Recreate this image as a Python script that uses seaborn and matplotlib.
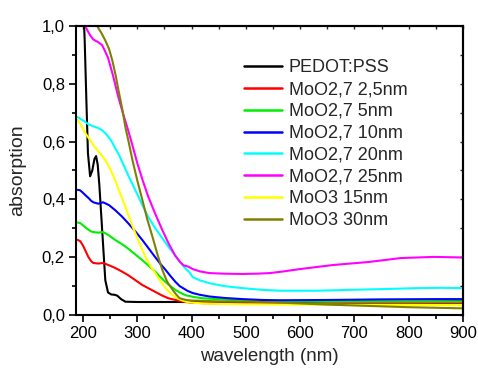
import matplotlib
matplotlib.use("Agg")
import matplotlib.pyplot as plt
import matplotlib.ticker as mticker
import numpy as np
import pandas as pd
import seaborn as sns

# Absorption spectra (wavelength in nm, absorption)
pedot_wl = [190, 200, 203, 206, 209, 213, 217, 221, 224, 227, 230, 233, 237, 241, 246, 252, 258, 263, 270, 278, 300, 400, 500, 600, 700, 800, 900]
pedot_ab = [1.25, 1.10, 0.95, 0.75, 0.56, 0.48, 0.50, 0.54, 0.55, 0.52, 0.45, 0.36, 0.24, 0.12, 0.078, 0.071, 0.070, 0.067, 0.055, 0.046, 0.045, 0.045, 0.045, 0.045, 0.046, 0.046, 0.047]

moo27_25_wl = [190, 195, 200, 205, 210, 215, 219, 228, 237, 248, 259, 271, 283, 296, 309, 321, 333, 345, 357, 370, 385, 400, 420, 460, 500, 600, 700, 800, 900]
moo27_25_ab = [0.26, 0.255, 0.24, 0.22, 0.20, 0.186, 0.18, 0.178, 0.18, 0.172, 0.163, 0.151, 0.138, 0.121, 0.104, 0.092, 0.080, 0.068, 0.058, 0.052, 0.046, 0.043, 0.041, 0.040, 0.040, 0.040, 0.040, 0.041, 0.041]

moo27_5_wl = [190, 195, 200, 205, 210, 215, 219, 228, 237, 248, 259, 271, 283, 296, 309, 321, 333, 342, 352, 361, 370, 380, 390, 405, 420, 445, 470, 510, 550, 650, 750, 900]
moo27_5_ab = [0.32, 0.318, 0.31, 0.302, 0.295, 0.289, 0.287, 0.285, 0.287, 0.275, 0.26, 0.246, 0.23, 0.21, 0.19, 0.17, 0.15, 0.132, 0.114, 0.10, 0.087, 0.076, 0.068, 0.062, 0.058, 0.055, 0.052, 0.050, 0.048, 0.046, 0.046, 0.046]

moo27_10_wl = [190, 194, 198, 204, 210, 215, 219, 228, 237, 248, 259, 271, 283, 296, 309, 321, 333, 342, 352, 361, 370, 378, 385, 393, 402, 415, 433, 460, 494, 530, 563, 650, 750, 850, 900]
moo27_10_ab = [0.433, 0.432, 0.426, 0.415, 0.405, 0.395, 0.39, 0.385, 0.39, 0.38, 0.363, 0.342, 0.318, 0.29, 0.26, 0.23, 0.20, 0.178, 0.156, 0.135, 0.115, 0.100, 0.092, 0.083, 0.076, 0.070, 0.064, 0.059, 0.055, 0.052, 0.051, 0.052, 0.054, 0.055, 0.055]

moo27_20_wl = [190, 196, 204, 210, 216, 222, 228, 236, 244, 252, 259, 266, 272, 284, 296, 308, 320, 333, 346, 358, 370, 380, 390, 396, 402, 415, 433, 460, 494, 530, 563, 630, 692, 760, 816, 860, 900]
moo27_20_ab = [0.685, 0.678, 0.668, 0.66, 0.655, 0.651, 0.647, 0.638, 0.623, 0.603, 0.578, 0.555, 0.530, 0.480, 0.433, 0.385, 0.340, 0.300, 0.266, 0.234, 0.205, 0.180, 0.158, 0.148, 0.131, 0.120, 0.110, 0.100, 0.093, 0.087, 0.084, 0.084, 0.087, 0.090, 0.093, 0.094, 0.093]

moo27_25nm_wl = [192, 198, 204, 208, 213, 218, 222, 228, 235, 240, 246, 255, 265, 274, 283, 292, 300, 310, 320, 333, 346, 358, 370, 378, 385, 393, 402, 415, 433, 460, 494, 520, 544, 570, 600, 630, 661, 692, 724, 755, 785, 815, 846, 875, 900]
moo27_25nm_ab = [1.04, 1.02, 1.0, 0.985, 0.968, 0.955, 0.95, 0.944, 0.934, 0.915, 0.89, 0.83, 0.754, 0.695, 0.64, 0.58, 0.525, 0.465, 0.41, 0.350, 0.294, 0.246, 0.205, 0.185, 0.172, 0.168, 0.159, 0.151, 0.145, 0.143, 0.142, 0.143, 0.145, 0.151, 0.159, 0.166, 0.173, 0.178, 0.183, 0.190, 0.197, 0.199, 0.201, 0.200, 0.199]

moo3_15_wl = [190, 197, 204, 213, 222, 231, 241, 250, 259, 268, 278, 287, 296, 306, 315, 324, 333, 342, 352, 361, 370, 380, 390, 405, 420, 460, 500, 600, 700, 800, 900]
moo3_15_ab = [0.675, 0.655, 0.63, 0.605, 0.58, 0.56, 0.536, 0.505, 0.467, 0.422, 0.374, 0.328, 0.284, 0.240, 0.200, 0.170, 0.145, 0.118, 0.093, 0.075, 0.062, 0.052, 0.046, 0.042, 0.040, 0.038, 0.037, 0.036, 0.035, 0.035, 0.034]

moo3_30_wl = [215, 220, 226, 234, 241, 248, 254, 260, 265, 272, 278, 285, 291, 300, 309, 318, 328, 337, 346, 355, 365, 372, 378, 390, 400, 420, 450, 500, 550, 600, 650, 700, 750, 800, 850, 900]
moo3_30_ab = [1.05, 1.025, 1.0, 0.975, 0.95, 0.92, 0.88, 0.83, 0.78, 0.715, 0.65, 0.59, 0.536, 0.465, 0.40, 0.333, 0.27, 0.21, 0.156, 0.115, 0.087, 0.070, 0.058, 0.052, 0.050, 0.049, 0.047, 0.046, 0.044, 0.040, 0.036, 0.033, 0.030, 0.027, 0.025, 0.023]

labels = ["PEDOT:PSS", "MoO2,7 2,5nm", "MoO2,7 5nm", "MoO2,7 10nm",
          "MoO2,7 20nm", "MoO2,7 25nm", "MoO3 15nm", "MoO3 30nm"]
colors = ["#000000", "#ff0000", "#00ee00", "#0000ff",
          "#00ffff", "#ff00ff", "#ffff00", "#808000"]

series = [(pedot_wl, pedot_ab), (moo27_25_wl, moo27_25_ab), (moo27_5_wl, moo27_5_ab),
          (moo27_10_wl, moo27_10_ab), (moo27_20_wl, moo27_20_ab), (moo27_25nm_wl, moo27_25nm_ab),
          (moo3_15_wl, moo3_15_ab), (moo3_30_wl, moo3_30_ab)]

frames = []
for name, (wl, ab) in zip(labels, series):
    frames.append(pd.DataFrame({"wavelength": wl, "absorption": ab, "sample": name}))
df = pd.concat(frames, ignore_index=True)

sns.set_style("ticks")
plt.rcParams["font.family"] = ["Liberation Sans", "DejaVu Sans"]

fig = plt.figure(figsize=(4.78, 3.70), dpi=100)
ax = fig.add_axes([76 / 478, 55 / 370, (463 - 76) / 478, (315 - 26) / 370])

sns.lineplot(data=df, x="wavelength", y="absorption", hue="sample",
             hue_order=labels, palette=colors, sort=False, estimator=None,
             linewidth=1.5, ax=ax)

ax.set_xlim(187, 900)
ax.set_ylim(0, 1.0)
ax.xaxis.set_major_locator(mticker.MultipleLocator(100))
ax.xaxis.set_minor_locator(mticker.MultipleLocator(50))
ax.yaxis.set_major_locator(mticker.MultipleLocator(0.2))
ax.yaxis.set_minor_locator(mticker.MultipleLocator(0.1))
ax.yaxis.set_major_formatter(mticker.FuncFormatter(lambda v, p: f"{v:.1f}".replace(".", ",")))

for s in ax.spines.values():
    s.set_visible(True)
    s.set_linewidth(1.5)
    s.set_color("black")

ax.tick_params(axis="both", which="major", direction="out", length=5, width=1.2,
               labelsize=12, colors="black", pad=3)
ax.tick_params(axis="both", which="minor", direction="out", length=3, width=1.2, colors="black")

# short inward ticks on the top and right frame
top = ax.secondary_xaxis("top")
top.xaxis.set_major_locator(mticker.MultipleLocator(100))
top.xaxis.set_minor_locator(mticker.MultipleLocator(50))
top.tick_params(which="both", direction="in", length=2.5, width=1.0, labeltop=False)
top.spines["top"].set_linewidth(1.5)
right = ax.secondary_yaxis("right")
right.yaxis.set_major_locator(mticker.MultipleLocator(0.2))
right.yaxis.set_minor_locator(mticker.MultipleLocator(0.1))
right.tick_params(which="both", direction="in", length=2.5, width=1.0, labelright=False)
right.spines["right"].set_linewidth(1.5)

ax.set_xlabel("wavelength (nm)", fontsize=13.5, labelpad=5)
ax.set_ylabel("absorption", fontsize=14, labelpad=11)

leg = ax.legend(loc="upper left", bbox_to_anchor=(0.435, 0.885), frameon=False,
                fontsize=13, handlelength=2.1, handletextpad=0.35,
                labelspacing=0.27, borderaxespad=0, borderpad=0)
for line in leg.get_lines():
    line.set_linewidth(1.8)

fig.savefig("out.png", dpi=100)
